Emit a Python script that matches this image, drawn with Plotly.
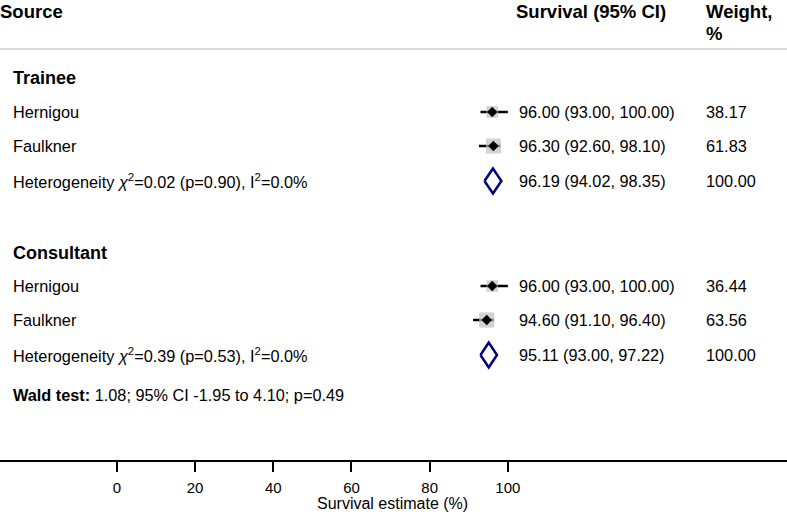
import numpy as np
import plotly.graph_objects as go

# study level data
group_names = ["Trainee", "Consultant"]
studies = ["Hernigou", "Faulkner", "Hernigou", "Faulkner"]
est = [96.00, 96.30, 96.00, 94.60]
lo = [93.00, 92.60, 93.00, 91.10]
hi = [100.00, 98.10, 100.00, 96.40]
weights = [38.17, 61.83, 36.44, 63.56]

# pooled estimates per group
pooled_est = [96.19, 95.11]
pooled_lo = [94.02, 93.00]
pooled_hi = [98.35, 97.22]
het_chi2 = [0.02, 0.39]
het_p = [0.90, 0.53]
het_i2 = [0.0, 0.0]

wald_text = "1.08; 95% CI -1.95 to 4.10; p=0.49"
tick_vals = [0, 20, 40, 60, 80, 100]

# layout: vertical row positions (px from top of the plot area)
group_rows = [78, 253]
study_rows = [112, 146, 286, 320]
pooled_rows = [181, 355]
wald_row = 395
W = 787
PLOT_H = 460
FONT = "Liberation Sans, Arial, sans-serif"

fig = go.Figure()

# confidence interval lines
for i in range(len(studies)):
    fig.add_trace(go.Scatter(x=[lo[i], hi[i]], y=[study_rows[i]] * 2, mode="lines",
                             line=dict(color="black", width=2.5), hoverinfo="skip"))

# weight squares
fig.add_trace(go.Scatter(x=est, y=study_rows, mode="markers",
                         marker=dict(symbol="square", color="#c0c0c0",
                                     size=[1.9 * np.sqrt(w) for w in weights], line=dict(width=0))))
# point estimates
fig.add_trace(go.Scatter(x=est, y=study_rows, mode="markers",
                         marker=dict(symbol="diamond", color="black", size=8)))

# pooled diamonds
for g in range(len(group_names)):
    y0 = pooled_rows[g]
    fig.add_trace(go.Scatter(
        x=[pooled_lo[g], pooled_est[g], pooled_hi[g], pooled_est[g], pooled_lo[g]],
        y=[y0, y0 - 12.5, y0, y0 + 12.5, y0], mode="lines",
        line=dict(color="#000080", width=2.5), fill="toself", fillcolor="white"))

ann = []


def txt(x, y, s, bold=False, size=16.3):
    if bold:
        s = "<b>" + s + "</b>"
    ann.append(dict(x=x / W, xref="paper", y=y, yref="y", text=s, showarrow=False,
                    xanchor="left", yanchor="middle", font=dict(size=size, family=FONT, color="black")))


# headers
txt(-2, 11, "Source", True, 18.5)
txt(514, 11, "Survival (95% CI)", True, 18.5)
txt(704, 11, "Weight,", True, 18.5)
txt(704, 33, "%", True, 18.5)

for g in range(len(group_names)):
    txt(11, group_rows[g], group_names[g], True, 18)
    txt(11, pooled_rows[g],
        "Heterogeneity <i>χ</i><sup>2</sup>=%.2f (p=%.2f), I<sup>2</sup>=%.1f%%" % (het_chi2[g], het_p[g], het_i2[g]))
    txt(517, pooled_rows[g], "%.2f (%.2f, %.2f)" % (pooled_est[g], pooled_lo[g], pooled_hi[g]))
    txt(704, pooled_rows[g], "100.00")

for i in range(len(studies)):
    txt(11, study_rows[i], studies[i])
    txt(517, study_rows[i], "%.2f (%.2f, %.2f)" % (est[i], lo[i], hi[i]))
    txt(704, study_rows[i], "%.2f" % weights[i])

txt(11, wald_row, "<b>Wald test:</b> " + wald_text)

# axis title as annotation below the tick labels
ann.append(dict(x=392 / W, xref="paper", y=-43 / PLOT_H, yref="paper",
                text="Survival estimate (%)", showarrow=False, xanchor="center", yanchor="middle",
                font=dict(size=16, family=FONT, color="black")))

fig.update_layout(
    width=787, height=512,
    margin=dict(l=0, r=0, t=0, b=512 - PLOT_H),
    plot_bgcolor="white", paper_bgcolor="white",
    showlegend=False,
    annotations=ann,
    shapes=[dict(type="line", xref="paper", yref="y", x0=0, x1=1, y0=49, y1=49,
                 line=dict(color="#cccccc", width=1.5))],
    xaxis=dict(range=[-29.9, 171.4], showgrid=False, zeroline=False, showline=True,
               linecolor="black", linewidth=1.5, ticks="outside", ticklen=10, tickwidth=1.5,
               tickcolor="black", tickvals=tick_vals, ticklabelstandoff=3,
               tickfont=dict(size=15, family=FONT, color="black")),
    yaxis=dict(range=[PLOT_H, 0], visible=False, showgrid=False, zeroline=False),
)

fig.write_html("out.html", config={"displayModeBar": False},
               post_script="document.body.style.margin='0';")
